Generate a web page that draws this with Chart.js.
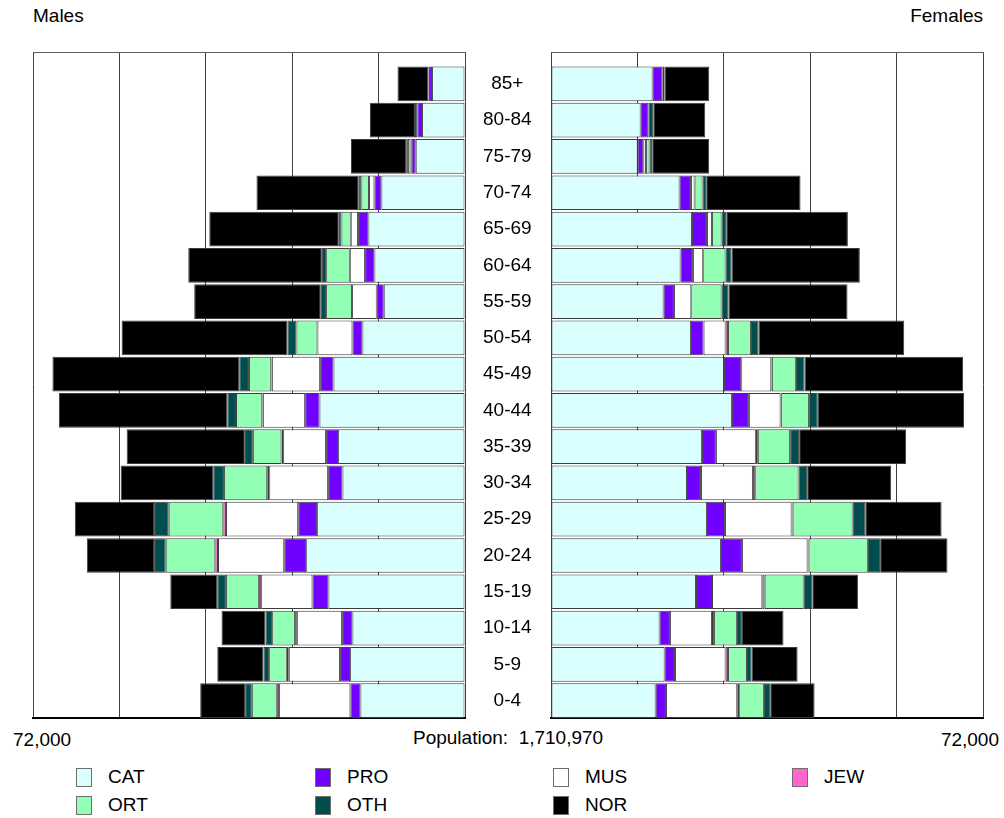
<!DOCTYPE html>
<html>
<head>
<meta charset="utf-8">
<script src="https://cdn.jsdelivr.net/npm/chart.js@4.4.0/dist/chart.umd.min.js"></script>
<style>
body { margin: 0; background: #fff; font-family: "Liberation Sans", Arial, sans-serif; }
#wrap { position: relative; width: 1004px; height: 818px; }
.txt { position: absolute; font-size: 19px; line-height: 19px; color: #000; white-space: pre; }
#maleChart { position: absolute; left: 0; top: 0; }
#femaleChart { position: absolute; left: 549px; top: 0; }
.sw { position: absolute; width: 16px; height: 19px; box-sizing: border-box; border: 1.5px solid #6e6e6e; }
</style>
</head>
<body>
<div id="wrap">
  <div class="txt" style="left:33px;top:6px">Males</div>
  <div class="txt" style="right:21px;top:6px">Females</div>
  <canvas id="maleChart" width="553" height="722"></canvas>
  <canvas id="femaleChart" width="455" height="722"></canvas>
  <div class="txt" style="left:13px;top:730px">72,000</div>
  <div class="txt" style="left:413px;top:728px">Population:  1,710,970</div>
  <div class="txt" style="right:5px;top:730px">72,000</div>
  <div id="legend"></div>
</div>
<script>
// age groups, top of the pyramid first
const ageGroups = ['85+', '80-84', '75-79', '70-74', '65-69', '60-64', '55-59', '50-54', '45-49',
    '40-44', '35-39', '30-34', '25-29', '20-24', '15-19', '10-14', '5-9', '0-4'];
const seriesNames = ['CAT', 'PRO', 'MUS', 'JEW', 'ORT', 'OTH', 'NOR'];
const seriesColors = ['#d9ffff', '#7000ff', '#ffffff', '#ff66cc', '#93ffb4', '#004d4d', '#000000'];

// Males
const maleCAT = [5490, 7160, 8210, 13930, 16100, 15100, 13540, 17090, 21920, 24250, 21150, 20420, 24640, 26470, 22760, 18760, 19150, 17430];
const malePRO = [500, 780, 670, 1170, 1720, 1550, 1170, 1670, 2220, 2390, 2000, 2390, 3160, 3660, 2660, 1720, 1670, 1670];
const maleMUS = [0, 0, 200, 890, 1220, 2550, 4110, 5830, 8050, 7050, 7160, 9820, 12040, 11040, 8550, 7550, 8550, 11880];
const maleJEW = [0, 0, 0, 0, 0, 0, 0, 0, 100, 100, 280, 330, 440, 440, 390, 280, 330, 390];
const maleORT = [0, 0, 440, 1280, 1550, 3940, 4330, 3500, 3720, 4380, 4770, 7220, 9100, 8270, 5490, 3830, 2940, 4160];
const maleOTH = [100, 400, 280, 440, 440, 720, 890, 1500, 1610, 1440, 1330, 1780, 2440, 1940, 1440, 1110, 940, 1110];
const maleNOR = [5160, 7490, 9210, 17040, 21590, 22260, 21090, 27640, 31140, 28080, 19700, 15430, 13210, 11210, 7830, 7330, 7710, 7490];

// Females
const femaleCAT = [16940, 14940, 14440, 21430, 23490, 21600, 18770, 23320, 28820, 30150, 25150, 22660, 25990, 28320, 24160, 18100, 18940, 17440];
const femalePRO = [1670, 1330, 940, 1890, 2500, 2050, 1720, 2110, 2890, 2830, 2330, 2330, 3000, 3500, 2670, 1720, 1720, 1720];
const femaleMUS = [0, 0, 440, 610, 830, 1720, 2890, 3670, 5000, 5280, 6660, 8660, 11110, 10940, 8390, 7000, 8440, 11880];
const femaleJEW = [0, 0, 0, 0, 0, 0, 0, 390, 100, 100, 330, 390, 170, 170, 390, 330, 390, 330];
const femaleORT = [0, 0, 610, 1330, 1610, 3720, 5050, 3830, 4000, 4660, 5390, 7220, 10000, 9880, 6500, 3830, 3170, 4110];
const femaleOTH = [330, 780, 440, 610, 780, 1000, 1170, 1280, 1440, 1440, 1500, 1440, 2110, 2050, 1440, 830, 780, 1060];
const femaleNOR = [7440, 8660, 9500, 15720, 20270, 21380, 19820, 24270, 26430, 24380, 17830, 13990, 12720, 11220, 7610, 6940, 7660, 7390];

const xMax = 72000;
const xStep = 14400;
const fontFamily = '"Liberation Sans", Arial, sans-serif';
const last = ageGroups.length - 1;

function rows(values) {
    return values.map((v, i) => ({ x: v, y: last - i }));
}

function makeDatasets(series) {
    return series.map((vals, k) => ({
        label: seriesNames[k],
        data: rows(vals),
        backgroundColor: seriesColors[k],
        borderColor: '#3c3c3c',
        borderWidth: 1,
        borderSkipped: false,
        categoryPercentage: 1,
        barPercentage: 0.957
    }));
}

function makeScales(isMale) {
    return {
        x: {
            type: 'linear',
            stacked: true,
            reverse: isMale,
            min: 0,
            max: xMax,
            ticks: { display: false, stepSize: xStep },
            grid: { color: '#404040', lineWidth: 1, drawTicks: false },
            border: { display: true, color: '#000', width: 2 }
        },
        xTop: {
            axis: 'x',
            type: 'linear',
            position: 'top',
            min: 0,
            max: xMax,
            ticks: { display: false },
            grid: { display: false, drawTicks: false },
            border: { display: true, color: '#606060', width: 1 }
        },
        y: {
            type: 'linear',
            position: 'right',
            stacked: true,
            offset: false,
            display: isMale,
            min: -0.48,
            max: last + 0.88,
            afterBuildTicks: s => { s.ticks = ageGroups.map((_, i) => ({ value: i })); },
            afterFit: s => {
                if (isMale) s.width = 88;
                // labels sit inside the plot height, no extra room needed
                s.paddingTop = 0;
                s.paddingBottom = 0;
            },
            grid: { display: false, drawTicks: false, offset: false },
            border: { display: false },
            ticks: {
                crossAlign: 'center',
                padding: 18,
                color: '#000',
                font: { family: fontFamily, size: 19 },
                callback: v => ageGroups[last - v]
            }
        }
    };
}

const maleCtx = document.getElementById('maleChart').getContext('2d');
const maleChart = new Chart(maleCtx, {
    type: 'bar',
    data: {
        datasets: makeDatasets([maleCAT, malePRO, maleMUS, maleJEW, maleORT, maleOTH, maleNOR])
    },
    options: {
        indexAxis: 'y',
        responsive: false,
        animation: false,
        layout: { padding: { left: 33, top: 52, right: 0, bottom: 4 } },
        scales: makeScales(true),
        plugins: { legend: { display: false }, tooltip: { enabled: false } }
    }
});

const femaleCtx = document.getElementById('femaleChart').getContext('2d');
const femaleChart = new Chart(femaleCtx, {
    type: 'bar',
    data: {
        datasets: makeDatasets([femaleCAT, femalePRO, femaleMUS, femaleJEW, femaleORT, femaleOTH, femaleNOR])
    },
    options: {
        indexAxis: 'y',
        responsive: false,
        animation: false,
        layout: { padding: { left: 2, top: 52, right: 21, bottom: 4 } },
        scales: makeScales(false),
        plugins: { legend: { display: false }, tooltip: { enabled: false } }
    }
});

// legend: 4 columns, 2 rows
const legendCols = [76, 315, 553, 792];
const legend = document.getElementById('legend');
seriesNames.forEach((name, k) => {
    const col = k % 4;
    const row = Math.floor(k / 4);
    const sw = document.createElement('div');
    sw.className = 'sw';
    sw.style.left = legendCols[col] + 'px';
    sw.style.top = (768 + row * 28) + 'px';
    sw.style.background = seriesColors[k];
    legend.appendChild(sw);
    const t = document.createElement('div');
    t.className = 'txt';
    t.style.left = (legendCols[col] + 32) + 'px';
    t.style.top = (767 + row * 28) + 'px';
    t.textContent = name;
    legend.appendChild(t);
});
</script>
</body>
</html>
